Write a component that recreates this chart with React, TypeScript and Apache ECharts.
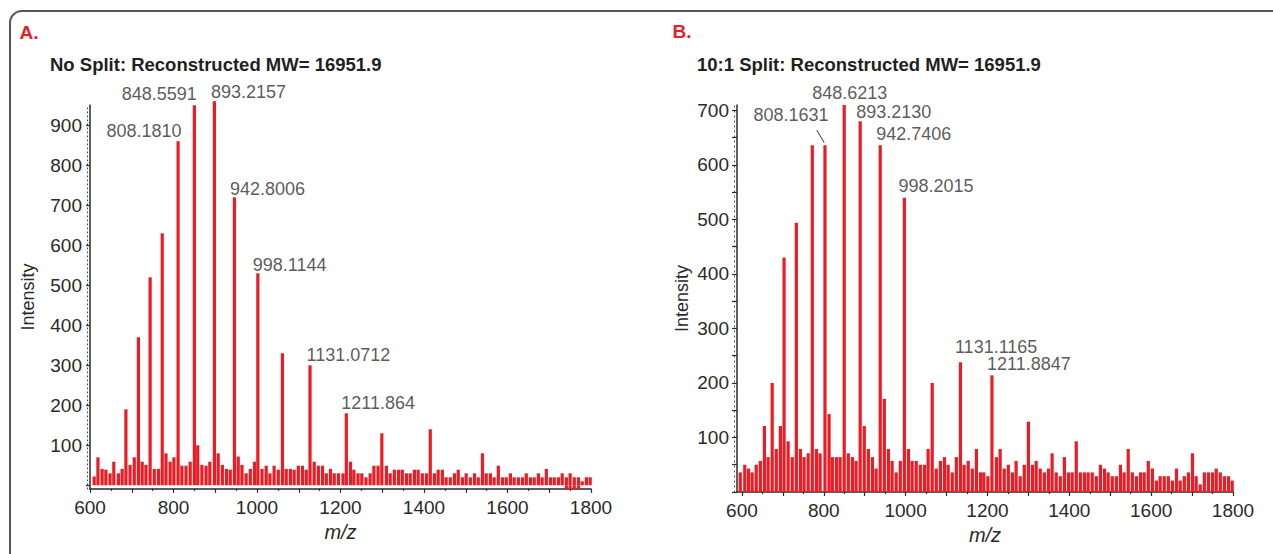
import React, { useEffect, useRef } from 'react';
import * as echarts from 'echarts';

const FONT = "'Liberation Sans', Arial, sans-serif";
const RED = '#ed1c24';
const INK = '#2a2a2a';

// ---------- Panel A: No Split ----------
const mzA = [610, 619, 629, 638, 648, 657, 668, 677, 686, 696, 706, 716, 725, 734, 744, 754, 764, 773, 782, 792, 801, 811, 820, 830, 840, 850, 858, 868, 878, 887, 898, 907, 917, 927, 936, 946, 955, 964, 974, 984, 994, 1002, 1012, 1022, 1031, 1041, 1051, 1061, 1070, 1080, 1089, 1099, 1109, 1118, 1127, 1137, 1147, 1157, 1166, 1176, 1185, 1195, 1206, 1214, 1224, 1232, 1242, 1251, 1261, 1271, 1280, 1290, 1299, 1310, 1319, 1329, 1339, 1348, 1358, 1367, 1377, 1386, 1396, 1406, 1415, 1425, 1434, 1444, 1453, 1463, 1473, 1482, 1492, 1501, 1511, 1521, 1530, 1540, 1549, 1559, 1568, 1578, 1588, 1597, 1607, 1616, 1626, 1636, 1645, 1655, 1664, 1674, 1683, 1693, 1703, 1712, 1722, 1731, 1741, 1750, 1760, 1770, 1779, 1789, 1798];
const intensityA = [22, 70, 41, 39, 30, 59, 30, 41, 190, 51, 70, 370, 59, 51, 520, 41, 41, 630, 80, 59, 70, 860, 49, 49, 59, 950, 100, 51, 49, 59, 960, 80, 51, 41, 39, 720, 72, 51, 30, 41, 59, 530, 41, 49, 30, 49, 39, 330, 41, 41, 39, 49, 49, 39, 300, 59, 49, 49, 30, 41, 30, 30, 30, 180, 59, 39, 30, 30, 20, 30, 49, 49, 130, 49, 30, 39, 39, 39, 30, 30, 39, 39, 30, 30, 140, 30, 39, 39, 20, 20, 30, 39, 20, 30, 20, 30, 20, 80, 30, 30, 20, 49, 20, 20, 30, 20, 20, 20, 30, 20, 20, 30, 20, 41, 20, 20, 20, 30, 20, 30, 20, 20, 10, 20, 20];
const mzNegA = [1741, 1750, 1760, 1770];
const intensityNegA = [-10, -10, -10, -10];
const peakMzA = [811, 850, 898, 946, 1002, 1127, 1214];
const peakTextA = ['808.1810', '848.5591', '893.2157', '942.8006', '998.1144', '1131.0712', '1211.864'];

// ---------- Panel B: 10:1 Split ----------
const mzB = [596, 607, 616, 625, 635, 645, 655, 664, 674, 684, 694, 703, 713, 723, 733, 743, 752, 762, 772, 782, 791, 803, 813, 821, 831, 840, 850, 860, 870, 879, 889, 899, 909, 919, 928, 938, 948, 958, 967, 977, 987, 997, 1007, 1016, 1026, 1036, 1046, 1055, 1065, 1075, 1085, 1095, 1104, 1114, 1124, 1134, 1143, 1153, 1163, 1173, 1183, 1191, 1201, 1211, 1222, 1231, 1241, 1251, 1261, 1270, 1280, 1290, 1300, 1310, 1319, 1329, 1339, 1349, 1358, 1368, 1378, 1388, 1398, 1407, 1417, 1427, 1437, 1446, 1456, 1466, 1476, 1486, 1495, 1505, 1515, 1525, 1534, 1544, 1554, 1564, 1574, 1583, 1593, 1603, 1613, 1622, 1632, 1642, 1652, 1662, 1671, 1681, 1691, 1701, 1710, 1720, 1730, 1740, 1750, 1759, 1769, 1779, 1789, 1798];
const intensityB = [36, 50, 43, 36, 50, 57, 121, 64, 200, 79, 121, 430, 93, 64, 494, 79, 64, 71, 636, 79, 71, 636, 143, 64, 64, 64, 710, 71, 64, 57, 680, 121, 79, 64, 43, 636, 171, 79, 57, 36, 57, 540, 79, 57, 57, 50, 50, 79, 200, 43, 57, 64, 50, 36, 64, 238, 50, 57, 43, 79, 36, 36, 29, 214, 64, 79, 43, 50, 36, 57, 29, 50, 129, 50, 57, 43, 36, 43, 71, 36, 29, 64, 36, 36, 93, 36, 36, 36, 36, 29, 50, 43, 36, 29, 29, 50, 36, 79, 36, 29, 36, 36, 57, 43, 21, 29, 29, 29, 21, 43, 21, 29, 36, 71, 29, 14, 36, 36, 36, 43, 36, 29, 29, 21];
const peakMzB = [803, 850, 889, 938, 997, 1134, 1211];
const peakTextB = ['808.1631', '848.6213', '893.2130', '942.7406', '998.2015', '1131.1165', '1211.8847'];

// ---------- Axis tick labels ----------
const xTickLabels = [600, 800, 1000, 1200, 1400, 1600, 1800];
const yTickLabelsA = [100, 200, 300, 400, 500, 600, 700, 800, 900];
const yTickLabelsB = [100, 200, 300, 400, 500, 600, 700];

// label placement (styling only)
const LAYOUT_A = [
  { align: 'right', dx: 4, dy: -10 },
  { align: 'right', dx: 3, dy: -11 },
  { align: 'left', dx: -3, dy: -9 },
  { align: 'left', dx: -4, dy: -8 },
  { align: 'left', dx: -4.5, dy: -8 },
  { align: 'left', dx: -3, dy: -9.5 },
  { align: 'left', dx: -4.5, dy: -9.5 },
];
const LAYOUT_B = [
  { align: 'right', dx: 4, dy: -30 },
  { align: 'center', dx: 6, dy: -12 },
  { align: 'left', dx: -3.5, dy: -9 },
  { align: 'left', dx: -3.5, dy: -11 },
  { align: 'left', dx: -5.5, dy: -11.5 },
  { align: 'left', dx: -5, dy: -15 },
  { align: 'left', dx: -4.5, dy: -10.5 },
];
const LEADER_B = { from: [783, 664], to: [801, 641] };

const steps = (a: number, b: number, s: number) => {
  const out: number[] = [];
  for (let v = a; v <= b + 1e-9; v += s) out.push(v);
  return out;
};

const pairs = (xs: number[], ys: number[]) => xs.map((x, i) => [x, ys[i]]);
const plain = (v: number) => String(v);

function peakItems(pm: number[], pt: string[], mz: number[], inten: number[], layout: any[]) {
  return pm.map((m, i) => ({
    value: [m, inten[mz.indexOf(m)]],
    label: {
      show: true,
      formatter: pt[i],
      position: [layout[i].dx, layout[i].dy],
      align: layout[i].align,
      verticalAlign: 'middle',
      fontFamily: FONT,
      fontSize: 18,
      color: '#2f2f2f',
    },
  }));
}

function mainX(grid: number, min: number, nameGap: number) {
  return {
    type: 'value', gridIndex: grid, min, max: 1800, position: 'bottom',
    axisLine: { show: true, onZero: false, lineStyle: { color: INK, width: 1.5 } },
    axisTick: { show: true, customValues: steps(600, 1800, 100), length: 4, lineStyle: { color: INK, width: 1.2 } },
    axisLabel: { show: true, customValues: xTickLabels, formatter: plain, margin: 9, color: INK, fontFamily: FONT, fontSize: 19 },
    splitLine: { show: false },
    name: 'm/z', nameLocation: 'middle', nameGap,
    nameTextStyle: { fontFamily: FONT, fontStyle: 'italic', fontSize: 20, color: INK },
  };
}
function minorX(grid: number, min: number) {
  return {
    type: 'value', gridIndex: grid, min, max: 1800, position: 'bottom',
    axisLine: { show: false, onZero: false },
    axisTick: { show: true, customValues: steps(650, 1750, 100), length: 2, lineStyle: { color: INK, width: 1.2 } },
    axisLabel: { show: false },
    splitLine: { show: false },
  };
}

export default function App() {
  const ref = useRef<HTMLDivElement>(null);
  useEffect(() => {
    document.body.style.margin = '0';
    if (!ref.current) return;
    const chart = echarts.init(ref.current, null, { renderer: 'svg' });
    const option: any = {
      animation: false,
      backgroundColor: '#ffffff',
      grid: [
        { left: 90, right: 682, top: 105.3, bottom: 65.1 },
        { left: 737, right: 40, top: 105, bottom: 62 },
      ],
      xAxis: [mainX(0, 600, 33), minorX(0, 600), mainX(1, 588, 28), minorX(1, 588)],
      yAxis: [
        {
          type: 'value', gridIndex: 0, min: -9, max: 950, position: 'left',
          axisLine: { show: true, onZero: false, lineStyle: { color: INK, width: 1.5 } },
          axisTick: { show: true, customValues: steps(0, 900, 100), length: 4, lineStyle: { color: INK, width: 1.2 } },
          axisLabel: { show: true, customValues: yTickLabelsA, formatter: plain, margin: 8, color: INK, fontFamily: FONT, fontSize: 19 },
          splitLine: { show: false },
          name: 'Intensity', nameLocation: 'middle', nameGap: 53,
          nameTextStyle: { fontFamily: FONT, fontSize: 18, color: INK },
        },
        {
          type: 'value', gridIndex: 0, min: -9, max: 950, position: 'left', offset: 2.5,
          axisLine: { show: true, onZero: false, lineStyle: { color: '#444', width: 1, type: [1, 3] } },
          axisTick: { show: false }, axisLabel: { show: false }, splitLine: { show: false },
        },
        {
          type: 'value', gridIndex: 1, min: 0, max: 710, position: 'left',
          axisLine: { show: true, onZero: false, lineStyle: { color: INK, width: 1.5 } },
          axisTick: { show: true, customValues: steps(0, 700, 50), length: 5, lineStyle: { color: INK, width: 1.2 } },
          axisLabel: { show: true, customValues: yTickLabelsB, formatter: plain, margin: 8, color: INK, fontFamily: FONT, fontSize: 19 },
          splitLine: { show: false },
          name: 'Intensity', nameLocation: 'middle', nameGap: 46,
          nameTextStyle: { fontFamily: FONT, fontSize: 18, color: INK },
        },
        {
          type: 'value', gridIndex: 1, min: 0, max: 710, position: 'left', offset: 2.5,
          axisLine: { show: true, onZero: false, lineStyle: { color: '#444', width: 1, type: [1, 4] } },
          axisTick: { show: false }, axisLabel: { show: false }, splitLine: { show: false },
        },
      ],
      series: [
        {
          type: 'bar', name: 'No Split', xAxisIndex: 0, yAxisIndex: 0,
          data: pairs(mzA, intensityA), barWidth: 3.2, barGap: '-100%', clip: false,
          itemStyle: { color: RED },
        },
        {
          type: 'bar', name: 'No Split (below)', xAxisIndex: 0, yAxisIndex: 0,
          data: pairs(mzNegA, intensityNegA), barWidth: 3.2, barGap: '-100%', clip: false,
          itemStyle: { color: RED },
        },
        {
          type: 'scatter', name: 'Peaks A', xAxisIndex: 0, yAxisIndex: 0,
          symbolSize: 1, itemStyle: { color: 'rgba(0,0,0,0)' }, clip: false,
          data: peakItems(peakMzA, peakTextA, mzA, intensityA, LAYOUT_A),
        },
        {
          type: 'bar', name: '10:1 Split', xAxisIndex: 2, yAxisIndex: 2,
          data: pairs(mzB, intensityB), barWidth: 3.2, clip: false,
          itemStyle: { color: RED },
        },
        {
          type: 'scatter', name: 'Peaks B', xAxisIndex: 2, yAxisIndex: 2,
          symbolSize: 1, itemStyle: { color: 'rgba(0,0,0,0)' }, clip: false,
          data: peakItems(peakMzB, peakTextB, mzB, intensityB, LAYOUT_B),
          markLine: {
            silent: true, symbol: ['none', 'none'], label: { show: false },
            lineStyle: { color: '#333', width: 1, type: 'solid' },
            data: [[{ coord: LEADER_B.from }, { coord: LEADER_B.to }]],
          },
        },
      ],
      graphic: [
        {
          type: 'rect', shape: { x: 10, y: 11, width: 1400, height: 700, r: 12 },
          style: { fill: 'none', stroke: '#555', lineWidth: 2 }, silent: true,
        },
        { type: 'text', x: 19.5, y: 32, style: { text: 'A.', font: `bold 19px ${FONT}`, fill: '#e4202c', textVerticalAlign: 'middle' } },
        { type: 'text', x: 50, y: 64, style: { text: 'No Split: Reconstructed MW= 16951.9', font: `bold 18.5px ${FONT}`, fill: '#231f20', textVerticalAlign: 'middle' } },
        { type: 'text', x: 672.5, y: 31.5, style: { text: 'B.', font: `bold 19px ${FONT}`, fill: '#e4202c', textVerticalAlign: 'middle' } },
        { type: 'text', x: 697, y: 64.5, style: { text: '10:1 Split: Reconstructed MW= 16951.9', font: `bold 18.5px ${FONT}`, fill: '#231f20', textVerticalAlign: 'middle' } },
      ],
    };
    chart.setOption(option);
    return () => chart.dispose();
  }, []);
  return <div ref={ref} style={{ width: 1273, height: 554 }} />;
}
